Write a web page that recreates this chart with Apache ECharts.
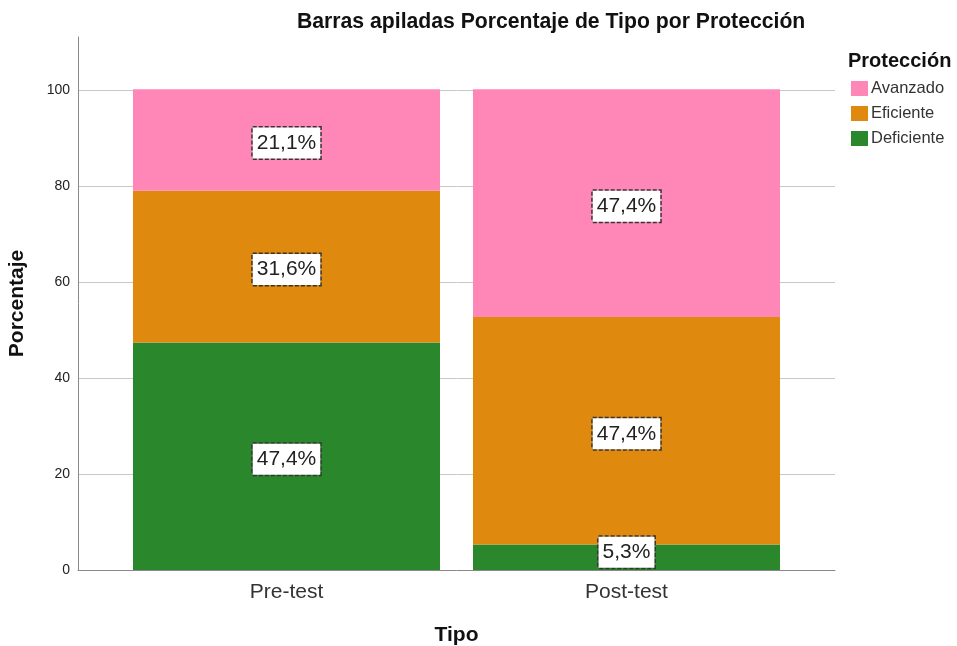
<!DOCTYPE html>
<html>
<head>
<meta charset="utf-8">
<script src="https://cdn.jsdelivr.net/npm/echarts@6/dist/echarts.min.js"></script>
<style>html,body{margin:0;padding:0;background:#fff}#c{width:957px;height:646px}</style>
</head>
<body>
<div id="c"></div>
<script>
var categories = ['Pre-test', 'Post-test'];
var seriesNames = ['Deficiente', 'Eficiente', 'Avanzado'];
var deficiente = [47.4, 5.3];
var eficiente = [31.6, 47.4];
var avanzado = [21.1, 47.4];
var yTicks = [0, 20, 40, 60, 80, 100];
var legendOrder = ['Avanzado', 'Eficiente', 'Deficiente'];

var colors = { Deficiente: '#2b872c', Eficiente: '#e0890f', Avanzado: '#ff87b8' };
var values = { Deficiente: deficiente, Eficiente: eficiente, Avanzado: avanzado };

var chart = echarts.init(document.getElementById('c'), null, { renderer: 'canvas' });
var YMAX = 111;
var labelStyle = {
  show: true,
  position: 'inside',
  offset: [0, 3],
  formatter: function (p) { return p.value.toFixed(1).replace('.', ',') + '%'; },
  fontFamily: 'Liberation Sans, Arial, sans-serif',
  fontSize: 21,
  color: '#222',
  backgroundColor: '#fff',
  borderColor: '#333',
  borderWidth: 1.5,
  borderType: [4, 2],
  padding: [6, 4, 4, 4]
};

var option = {
  animation: false,
  textStyle: { fontFamily: 'Liberation Sans, Arial, sans-serif' },
  title: [
    { text: 'Barras apiladas Porcentaje de Tipo por Protección', left: 292, top: 7,
      textStyle: { fontSize: 21.2, fontWeight: 'bold', color: '#111' } },
    { text: 'Protección', left: 843, top: 46,
      textStyle: { fontSize: 20, fontWeight: 'bold', color: '#111' } }
  ],
  legend: {
    orient: 'vertical', left: 846, top: 75, itemWidth: 17, itemHeight: 15, itemGap: 8,
    data: legendOrder, icon: 'rect',
    textStyle: { fontSize: 16.5, color: '#333', padding: [0, 0, 0, -2] }
  },
  grid: [
    { left: 78, right: 122, top: 37, bottom: 76, outerBoundsMode: 'none', containLabel: false },
    { left: 116.5, right: 160.5, top: 37, bottom: 76, outerBoundsMode: 'none', containLabel: false }
  ],
  xAxis: [
    { gridIndex: 0, type: 'category', data: categories,
      axisLine: { lineStyle: { color: '#888', width: 1 } }, axisTick: { show: false }, axisLabel: { show: false },
      name: 'Tipo', nameLocation: 'middle', nameGap: 55,
      nameTextStyle: { fontSize: 21, fontWeight: 'bold', color: '#111' } },
    { gridIndex: 1, type: 'category', data: categories,
      axisLine: { show: false }, axisTick: { show: false },
      axisLabel: { fontSize: 21, color: '#333', margin: 12 } }
  ],
  yAxis: [
    { gridIndex: 0, type: 'value', min: 0, max: YMAX, interval: 20,
      axisLine: { show: true, lineStyle: { color: '#888', width: 1 } }, axisTick: { show: false },
      axisLabel: { fontSize: 14, color: '#222', margin: 8, showMaxLabel: false,
        formatter: function (v) { return yTicks.indexOf(v) >= 0 ? String(v) : ''; } },
      splitLine: { show: true, lineStyle: { color: ['#c8c8c8', '#c8c8c8', '#c8c8c8', '#c8c8c8', '#c8c8c8', '#c8c8c8', 'transparent'], width: 1 } },
      name: 'Porcentaje', nameLocation: 'middle', nameGap: 50, nameRotate: 90,
      nameTextStyle: { fontSize: 21, fontWeight: 'bold', color: '#111' } },
    { gridIndex: 1, type: 'value', min: 0, max: YMAX, interval: 20, show: false }
  ],
  series: seriesNames.map(function (n) {
    return {
      name: n, type: 'bar', stack: 'total', xAxisIndex: 1, yAxisIndex: 1,
      data: values[n].map(function (v) {
        return v < 8 ? { value: v, label: { offset: [0, -5] } } : v;
      }),
      barWidth: '90.3%',
      itemStyle: { color: colors[n] },
      label: labelStyle
    };
  })
};
chart.setOption(option);
</script>
</body>
</html>
